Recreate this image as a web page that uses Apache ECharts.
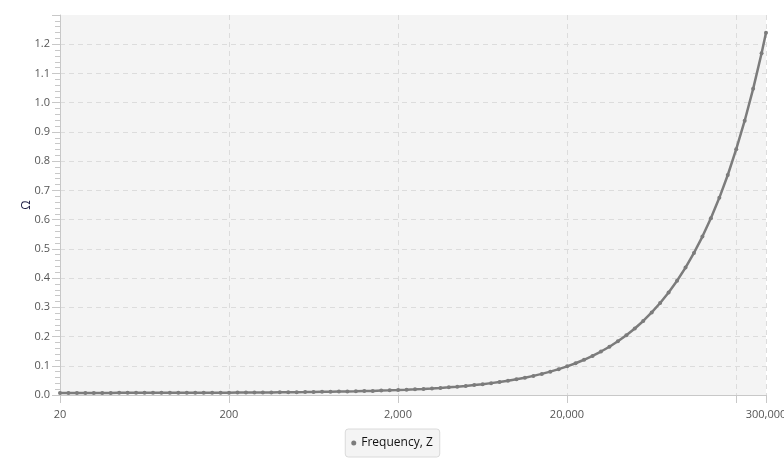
<!DOCTYPE html>
<html>
<head>
<meta charset="utf-8">
<script src="https://cdn.jsdelivr.net/npm/echarts@6/dist/echarts.min.js"></script>
<style>
html,body{margin:0;padding:0;background:#fff;}
#chart{width:784px;height:463px;}
</style>
</head>
<body>
<div id="chart"></div>
<script>
const seriesName = 'Frequency, Z';
const yAxisName = 'Ω';
const frequency = [
  20, 22.44, 25.18, 28.25, 31.70, 35.57, 39.91, 44.77, 50.24, 56.37,
  63.25, 70.96, 79.62, 89.34, 100.2, 112.5, 126.2, 141.6, 158.9, 178.3,
  200, 224.4, 251.8, 282.5, 317.0, 355.7, 399.1, 447.7, 502.4, 563.7,
  632.5, 709.6, 796.2, 893.4, 1002, 1125, 1262, 1416, 1589, 1783,
  2000, 2244, 2518, 2825, 3170, 3557, 3991, 4477, 5024, 5637,
  6325, 7096, 7962, 8934, 10024, 11247, 12619, 14159, 15887, 17825,
  20000, 22440, 25179, 28251, 31698, 35566, 39905, 44774, 50238, 56368,
  63246, 70963, 79621, 89337, 100237, 112468, 126191, 141589, 158866, 178250,
  200000, 224404, 251785, 282508, 300000
];
const impedance = [
  0.0071, 0.0071, 0.0071, 0.0072, 0.0072, 0.0072, 0.0072, 0.0073, 0.0073, 0.0073,
  0.0074, 0.0074, 0.0074, 0.0075, 0.0076, 0.0076, 0.0077, 0.0078, 0.0079, 0.0080,
  0.0081, 0.0082, 0.0083, 0.0085, 0.0087, 0.0089, 0.0091, 0.0093, 0.0096, 0.0099,
  0.0103, 0.0107, 0.0111, 0.0116, 0.0121, 0.0127, 0.0134, 0.0141, 0.0150, 0.0159,
  0.0169, 0.0181, 0.0194, 0.0208, 0.0225, 0.0243, 0.0263, 0.0286, 0.0311, 0.0339,
  0.0371, 0.0406, 0.0445, 0.0489, 0.0538, 0.0593, 0.0654, 0.0722, 0.0799, 0.0884,
  0.098, 0.1086, 0.1205, 0.1338, 0.1487, 0.1652, 0.1838, 0.2044, 0.2275, 0.2533,
  0.2824, 0.3147, 0.3507, 0.3909, 0.4358, 0.486, 0.542, 0.6046, 0.6745, 0.7526,
  0.8408, 0.9383, 1.0473, 1.169, 1.239
];
const xMin = 20, xMax = 300000;
const yMin = 0, yMax = 1.3, yStep = 0.1;

const chart = echarts.init(document.getElementById('chart'), null, {renderer: 'canvas'});
const axisGray = '#c8c8c8';
const gridDash = '#dcdcdc';
const font = '"Open Sans", "Noto Sans", sans-serif';
chart.setOption({
  animation: false,
  grid: {left: 60, right: 18, top: 15, bottom: 68, show: true, backgroundColor: '#f4f4f4', borderWidth: 0,
         containLabel: false, outerBoundsMode: 'none'},
  xAxis: {
    type: 'log', logBase: 10, min: xMin, max: xMax, interval: 1,
    axisLine: {show: true, lineStyle: {color: axisGray, width: 1}},
    axisTick: {show: true, length: 8, lineStyle: {color: axisGray}},
    splitLine: {show: true, lineStyle: {color: gridDash, type: [5, 4]}},
    axisLabel: {
      color: '#555', fontSize: 11, fontFamily: font, margin: 14,
      showMinLabel: true, showMaxLabel: true, hideOverlap: false,
      formatter: function (v) {
        const r = Number(Number(v).toPrecision(2));
        if (Math.abs(r - 200000) < 2) return '';
        return r.toLocaleString('en-US');
      }
    }
  },
  yAxis: {
    type: 'value', min: yMin, max: yMax, interval: yStep,
    name: yAxisName, nameLocation: 'middle', nameGap: 27, nameRotate: 90, nameMoveOverlap: false,
    nameTextStyle: {color: '#1a1a40', fontSize: 12, fontFamily: font},
    axisLine: {show: true, lineStyle: {color: axisGray, width: 1}},
    axisTick: {show: true, length: 8, lineStyle: {color: axisGray}},
    minorTick: {show: true, splitNumber: 5, length: 5, lineStyle: {color: axisGray}},
    splitLine: {show: true, showMaxLine: false, lineStyle: {color: gridDash, type: [5, 4]}},
    axisLabel: {
      color: '#555', fontSize: 11, fontFamily: font, margin: 10,
      showMaxLabel: false,
      formatter: function (v) { return v.toFixed(1); }
    }
  },
  legend: {
    show: true, bottom: 6, left: 'center',
    backgroundColor: '#f4f4f4', borderColor: '#dadada', borderWidth: 1, borderRadius: 3,
    padding: [8, 7, 8, 6],
    icon: 'circle', itemWidth: 5, itemHeight: 5, itemGap: 5,
    textStyle: {color: '#111', fontSize: 12, fontFamily: font},
    data: [seriesName]
  },
  series: [{
    name: seriesName, type: 'line',
    data: frequency.map((f, i) => [f, impedance[i]]),
    symbol: 'circle', symbolSize: 4, showSymbol: true,
    itemStyle: {color: '#7c7c7c'},
    lineStyle: {color: '#7c7c7c', width: 2.5}
  }]
});
</script>
</body>
</html>
